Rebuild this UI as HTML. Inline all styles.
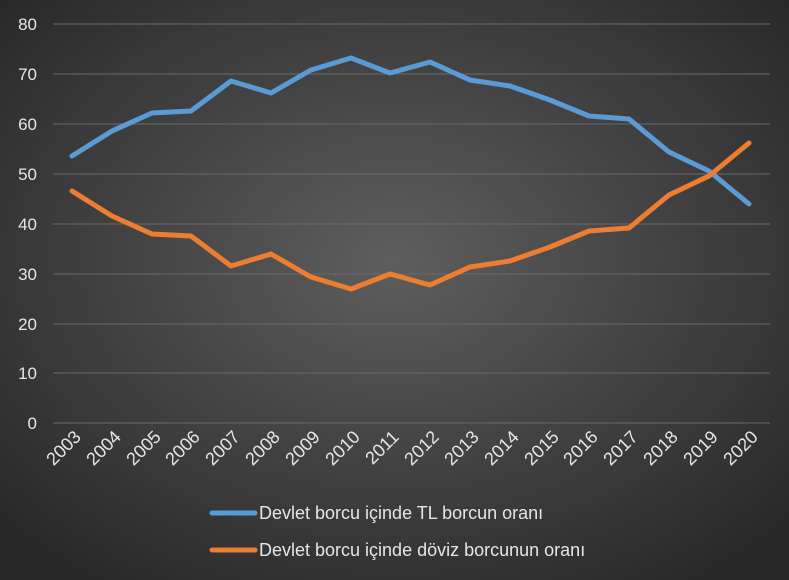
<!DOCTYPE html><html><head><style>body{margin:0}svg{display:block}</style></head><body>
<svg width="789" height="580" xmlns="http://www.w3.org/2000/svg">
<defs><radialGradient id="g" cx="50%" cy="45%" r="70%"><stop offset="0" stop-color="#5e5e5e"/><stop offset="1" stop-color="#262626"/></radialGradient></defs>
<rect width="789" height="580" fill="url(#g)"/>
<g stroke="#6a6a6a" stroke-width="1">
<line x1="53" x2="770" y1="24" y2="24"/><line x1="53" x2="770" y1="74" y2="74"/><line x1="53" x2="770" y1="124" y2="124"/><line x1="53" x2="770" y1="174" y2="174"/><line x1="53" x2="770" y1="224" y2="224"/><line x1="53" x2="770" y1="274" y2="274"/><line x1="53" x2="770" y1="324" y2="324"/><line x1="53" x2="770" y1="373" y2="373"/><line x1="53" x2="770" y1="423" y2="423"/></g>
<g font-family="Liberation Sans, sans-serif" font-size="17" fill="#e6e6e6" text-anchor="end">
<text x="37" y="30">80</text><text x="37" y="80">70</text><text x="37" y="130">60</text><text x="37" y="180">50</text><text x="37" y="230">40</text><text x="37" y="280">30</text><text x="37" y="330">20</text><text x="37" y="379">10</text><text x="37" y="429">0</text></g>
<g font-family="Liberation Sans, sans-serif" font-size="18" fill="#e6e6e6" text-anchor="end">
<text transform="translate(82,438) rotate(-45)">2003</text><text transform="translate(122,438) rotate(-45)">2004</text><text transform="translate(162,438) rotate(-45)">2005</text><text transform="translate(201,438) rotate(-45)">2006</text><text transform="translate(241,438) rotate(-45)">2007</text><text transform="translate(281,438) rotate(-45)">2008</text><text transform="translate(321,438) rotate(-45)">2009</text><text transform="translate(361,438) rotate(-45)">2010</text><text transform="translate(400,438) rotate(-45)">2011</text><text transform="translate(440,438) rotate(-45)">2012</text><text transform="translate(480,438) rotate(-45)">2013</text><text transform="translate(520,438) rotate(-45)">2014</text><text transform="translate(560,438) rotate(-45)">2015</text><text transform="translate(599,438) rotate(-45)">2016</text><text transform="translate(639,438) rotate(-45)">2017</text><text transform="translate(679,438) rotate(-45)">2018</text><text transform="translate(719,438) rotate(-45)">2019</text><text transform="translate(759,438) rotate(-45)">2020</text></g>
<g fill="none" stroke-width="5" stroke-linejoin="round" stroke-linecap="round">
<polyline stroke="#5b9bd5" points="72,156 112,131 152,113 191,111 231,81 271,93 311,70 351,58 390,73 430,62 470,80 510,86 550,100 589,116 629,119 669,152 709,171 749,204"/>
<polyline stroke="#ed7d31" points="72,191 112,216 152,234 191,236 231,266 271,254 311,277 351,289 390,274 430,285 470,267 510,261 550,247 589,231 629,228 669,195 709,176 749,143"/></g>
<line x1="212" x2="255" y1="513" y2="513" stroke="#5b9bd5" stroke-width="5" stroke-linecap="round"/>
<line x1="212" x2="255" y1="550" y2="550" stroke="#ed7d31" stroke-width="5" stroke-linecap="round"/>
<g font-family="Liberation Sans, sans-serif" font-size="18" fill="#e6e6e6">
<text x="259" y="519">Devlet borcu içinde TL borcun oranı</text>
<text x="259" y="556">Devlet borcu içinde döviz borcunun oranı</text></g>
</svg></body></html>
